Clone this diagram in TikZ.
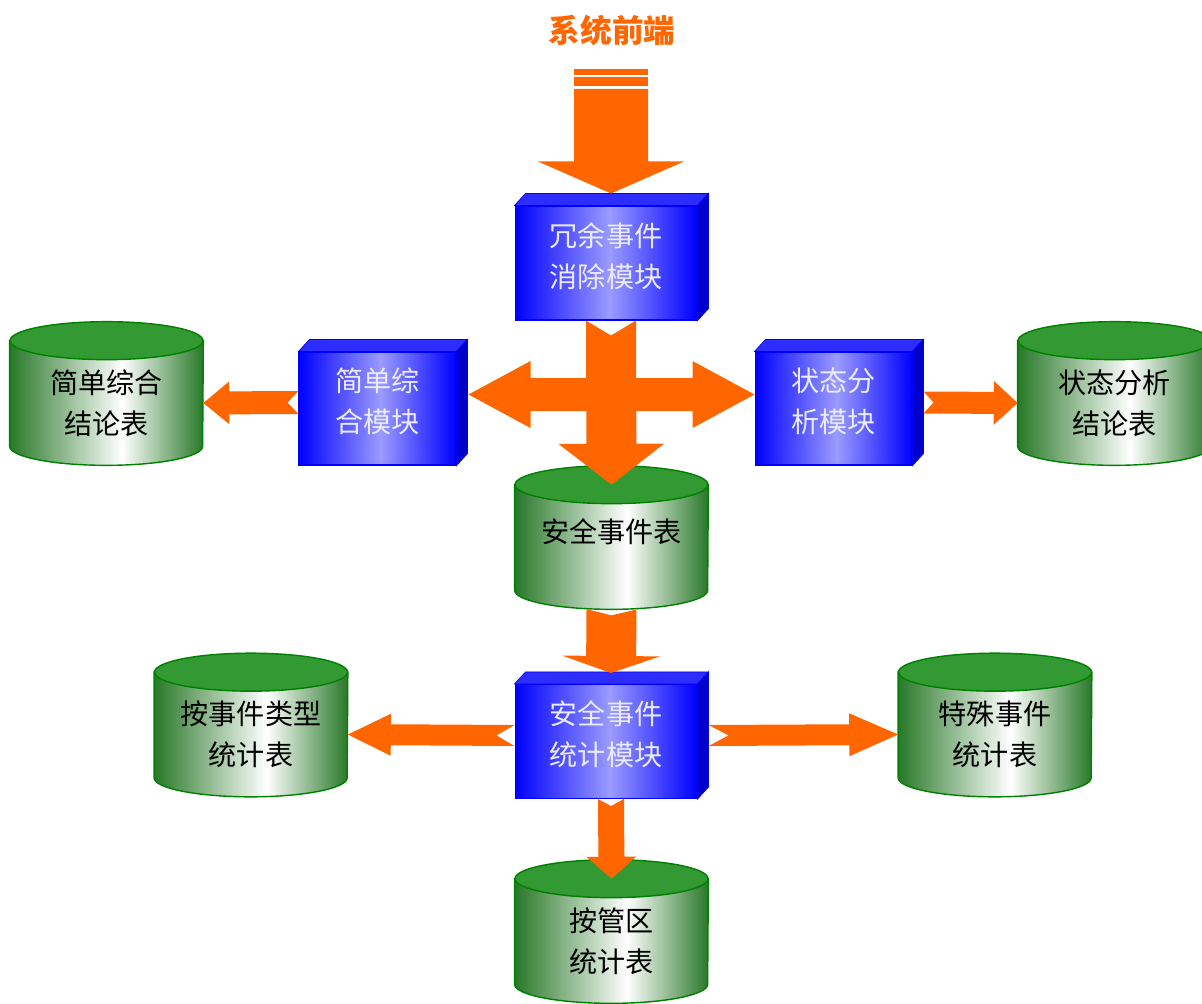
\documentclass[tikz,border=0pt]{standalone}
\usepackage{fontspec}
\newfontfamily\cjk{Noto Sans CJK SC}
\usetikzlibrary{calc,backgrounds}

\definecolor{flow}{RGB}{255,102,0}
\definecolor{modblue}{RGB}{0,0,255}
\definecolor{modlight}{RGB}{155,155,255}
\definecolor{modside}{RGB}{0,0,205}
\definecolor{modtop}{RGB}{45,45,255}
\definecolor{modtext}{RGB}{235,235,255}
\definecolor{drumtop}{RGB}{51,153,51}
\definecolor{drumline}{RGB}{0,128,0}
\definecolor{drumdark}{RGB}{40,120,40}

\pgfdeclarehorizontalshading{modshade}{100bp}{color(0bp)=(modblue); color(25bp)=(modblue);
  color(51bp)=(modlight); color(75bp)=(modblue); color(100bp)=(modblue)}
\pgfdeclarehorizontalshading{drumshade}{100bp}{color(0bp)=(drumdark); color(25bp)=(drumdark);
  color(54bp)=(white); color(75bp)=(drumdark); color(100bp)=(drumdark)}

\tikzset{
  module/.style={rectangle, draw=modblue, line width=0.6pt, shade, shading=modshade,
    text=modtext, align=center, inner sep=0pt, text depth=0.33cm,
    font=\cjk\fontsize{16}{23.3}\selectfont},
  drum/.style={rectangle, minimum width=3.86cm, minimum height=2.48cm, inner sep=0pt,
    align=center, text=black, font=\cjk\fontsize{16}{23.3}\selectfont},
}

% 3d faces on top of and beside a module
\newcommand\boxfaces[1]{%
  \filldraw[fill=modtop, draw=modblue, line width=0.4pt] (#1.north west) -- ++(11,-12)
    -- ($(#1.north east)+(11,-12)$) -- (#1.north east) -- cycle;
  \filldraw[fill=modside, draw=modblue, line width=0.4pt] (#1.north east) -- ++(11,-12)
    -- ($(#1.south east)+(11,-12)$) -- (#1.south east) -- cycle;}

% cylinder round a drum node
\newcommand\drumshape[1]{%
  \begin{scope}[on background layer]
    \shade[shading=drumshade, draw=drumline, line width=0.8pt]
      (#1.north west) -- ($(#1.south west)+(0,-19)$)
      arc[start angle=180, end angle=360, x radius=1.93cm, y radius=0.38cm]
      -- (#1.north east) -- cycle;
    \filldraw[fill=drumtop, draw=drumline, line width=0.8pt]
      (#1.north) ellipse [x radius=1.93cm, y radius=0.38cm];
  \end{scope}}

% block arrow: tail, tip, half shaft, half head, head length, notch
\newcommand\flowarrow[6]{%
  \coordinate (fa-t) at #1;
  \coordinate (fa-p) at #2;
  \coordinate (fa-b) at ($(fa-p)!#5!(fa-t)$);
  \fill[flow] ($(fa-t)!#3!90:(fa-p)$) -- ($(fa-t)!#6!(fa-p)$) -- ($(fa-t)!#3!-90:(fa-p)$)
    -- ($(fa-b)!#3!-90:(fa-p)$) -- ($(fa-b)!#4!-90:(fa-p)$) -- (fa-p)
    -- ($(fa-b)!#4!90:(fa-p)$) -- ($(fa-b)!#3!90:(fa-p)$) -- cycle;}

\begin{document}
\begin{tikzpicture}[x=0.02cm, y=-0.02cm]
  \useasboundingbox (0,0) rectangle (1202,1003);

  \node[text=flow, font=\cjk\fontsize{18}{20}\selectfont\bfseries] (title) at (612,30) {系统前端};

  % modules
  \node[module, minimum width=3.64cm, minimum height=2.28cm] (dedup) at (606,263) {冗余事件\\消除模块};
  \node[module, minimum width=3.14cm, minimum height=2.26cm] (simp) at (377.5,408.5) {简单综\\合模块};
  \node[module, minimum width=3.14cm, minimum height=2.26cm] (state) at (833.5,408.5) {状态分\\析模块};
  \node[module, minimum width=3.64cm, minimum height=2.28cm] (stat) at (606,741.5) {安全事件\\统计模块};
  \boxfaces{dedup}
  \boxfaces{simp}
  \boxfaces{state}
  \boxfaces{stat}

  % tables
  \node[drum] (sumtab) at (106.5,403) {简单综合\\结论表};
  \node[drum] (statetab) at (1114.5,403) {状态分析\\结论表};
  \node[drum, text depth=0.66cm] (eventtab) at (611.5,547) {安全事件表};
  \node[drum] (typetab) at (251,734.5) {按事件类型\\统计表};
  \node[drum] (spectab) at (995,734.5) {特殊事件\\统计表};
  \node[drum] (zonetab) at (611.5,941) {按管区\\统计表};
  \foreach \t in {sumtab,statetab,eventtab,typetab,spectab,zonetab}{
    \drumshape{\t}
  }

  % arrows
  \coordinate (feed) at (611,89);
  \fill[flow] ($(feed)+(-37,-20)$) rectangle ($(feed)+(37,-14)$);
  \fill[flow] ($(feed)+(-37,-12)$) rectangle ($(feed)+(37,-3)$);
  \flowarrow{(feed)}{($(dedup.north)+(5,-12)$)}{0.74cm}{1.46cm}{0.64cm}{0cm}

  \coordinate (hub) at ($(dedup.south)+(5,74)$);
  \flowarrow{(hub)}{($(simp.east |- hub)+(12,0)$)}{0.33cm}{0.67cm}{1.24cm}{0cm}
  \flowarrow{(hub)}{(state.west |- hub)}{0.33cm}{0.67cm}{1.24cm}{0cm}
  \flowarrow{($(dedup.south)+(5,0)$)}{(eventtab.north)}{0.5cm}{1.06cm}{0.82cm}{0.3cm}

  \flowarrow{($(simp.west)+(0,-6)$)}{(sumtab.east)}{0.23cm}{0.43cm}{0.52cm}{0.22cm}
  \flowarrow{($(state.east)+(11,-6)$)}{(statetab.west)}{0.22cm}{0.44cm}{0.48cm}{0.2cm}

  \flowarrow{(eventtab.south)}{($(stat.north)+(5,-11)$)}{0.5cm}{0.98cm}{0.34cm}{0.12cm}
  \flowarrow{($(stat.west)+(0,-6)$)}{(typetab.east)}{0.21cm}{0.42cm}{0.86cm}{0.36cm}
  \flowarrow{($(stat.east)+(11,-6)$)}{(spectab.west)}{0.21cm}{0.43cm}{0.98cm}{0.4cm}
  \flowarrow{($(stat.south)+(5,0)$)}{(zonetab.north)}{0.26cm}{0.5cm}{0.44cm}{0.14cm}
\end{tikzpicture}
\end{document}
